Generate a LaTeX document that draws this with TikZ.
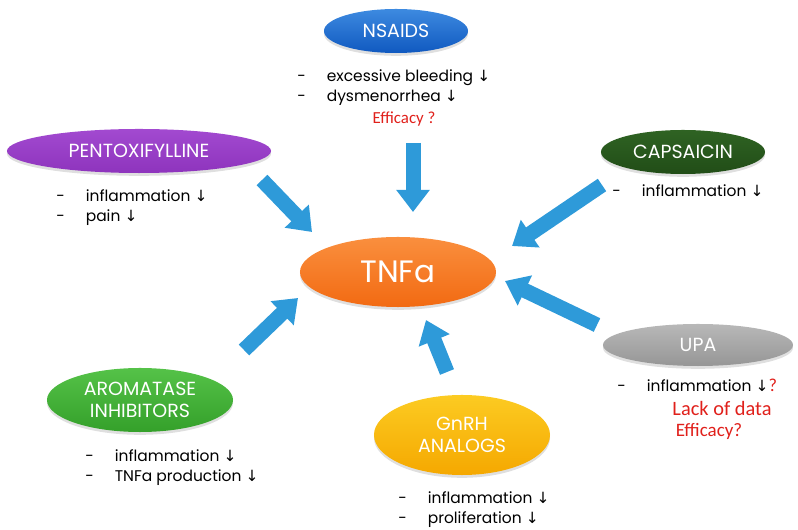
\documentclass[tikz,border=0pt]{standalone}
\usepackage{fontspec}
\setmainfont{Poppins}
\newfontfamily\redfont{Carlito}
\newfontfamily\symfont{DejaVu Sans}
\usetikzlibrary{shapes.geometric,shadows,arrows.meta}
\newcommand\dn{{\symfont\char"2193}}
\newcommand\li[1]{\makebox[21pt][l]{-}#1}
\definecolor{arrowblue}{HTML}{2E9AD9}
\definecolor{txtred}{HTML}{E0201B}
\definecolor{nsaidtop}{HTML}{3D8AE0}\definecolor{nsaidbot}{HTML}{1059C0}
\definecolor{pentotop}{HTML}{A24AD0}\definecolor{pentobot}{HTML}{8E34BD}
\definecolor{capstop}{HTML}{2F6323}\definecolor{capsbot}{HTML}{214D17}
\definecolor{upatop}{HTML}{B8B8B8}\definecolor{upabot}{HTML}{969696}
\definecolor{aromtop}{HTML}{55C248}\definecolor{arombot}{HTML}{34A02A}
\definecolor{gnrhtop}{HTML}{FCCB22}\definecolor{gnrhbot}{HTML}{F5A800}
\definecolor{tnftop}{HTML}{FA8F3E}\definecolor{tnfbot}{HTML}{F26A12}

\begin{document}
\begin{tikzpicture}[x=0.025cm,y=-0.025cm,
  drug/.style={ellipse,inner sep=0pt,font=\fontsize{13.5}{16}\selectfont,text=white,align=center,
    drop shadow={opacity=0.25,shadow xshift=0pt,shadow yshift=-2pt}},
  list/.style={anchor=west,align=left,inner sep=0pt,font=\fontsize{11}{14.2}\selectfont},
  note/.style={inner sep=0pt,text=txtred,font=\redfont\fontsize{12}{14}\selectfont},
  push/.style={line width=0.375cm,draw=arrowblue,-{Triangle[width=0.8cm,length=0.55cm]}}]
\useasboundingbox (0,0) rectangle (798,530);

\node[drug,minimum width=3.6cm,minimum height=1.1cm,top color=nsaidtop,bottom color=nsaidbot] (nsaid) at (396,31) {NSAIDS};
\node[drug,minimum width=6.6cm,minimum height=1.1cm,top color=pentotop,bottom color=pentobot] (pento) at (139,151) {PENTOXIFYLLINE};
\node[drug,minimum width=4.1cm,minimum height=1.1cm,top color=capstop,bottom color=capsbot] (caps) at (683,152) {CAPSAICIN};
\node[drug,minimum width=4.75cm,minimum height=1.05cm,top color=upatop,bottom color=upabot] (upa) at (698,345) {UPA};
\node[drug,minimum width=4.65cm,minimum height=1.6cm,top color=aromtop,bottom color=arombot] (arom) at (140,400) {AROMATASE\\INHIBITORS};
\node[drug,minimum width=4.4cm,minimum height=2cm,top color=gnrhtop,bottom color=gnrhbot] (gnrh) at (462,435) {GnRH\\ANALOGS};
\node[drug,minimum width=4.9cm,minimum height=1.75cm,font=\fontsize{22}{24}\selectfont,top color=tnftop,bottom color=tnfbot] (tnf) at (398,272) {TNFa};

\node[list] (nsaidtxt) at (297,88) {\li{excessive bleeding \dn}\\\li{dysmenorrhea \dn}};
\node[note] (nsaidq) at (404,119) {Efficacy ?};
\node[list] (pentotxt) at (56,208) {\li{inflammation \dn}\\\li{pain \dn}};
\node[list] (capstxt) at (612,191) {\li{inflammation \dn}};
\node[list] (upatxt) at (617,385) {\li{inflammation \dn\textcolor{txtred}{\redfont\fontsize{13}{14}\selectfont ?}}};
\node[note,font=\redfont\fontsize{14.5}{16}\selectfont] (upalack) at (722,408) {Lack of data};
\node[note,font=\redfont\fontsize{13.5}{16}\selectfont] (upaq) at (709,431) {Efficacy?};
\node[list] (aromtxt) at (85,468) {\li{inflammation \dn}\\\li{TNFa production \dn}};
\node[list] (gnrhtxt) at (398,510) {\li{inflammation \dn}\\\li{proliferation \dn}};

\coordinate (nsaid-a) at (413,143); \coordinate (nsaid-b) at (413,212);
\coordinate (pento-a) at (262,180); \coordinate (pento-b) at (312,232);
\coordinate (caps-a) at (602,185);  \coordinate (caps-b) at (512,246);
\coordinate (upa-a) at (597,325);   \coordinate (upa-b) at (505,281);
\coordinate (gnrh-a) at (447,372);  \coordinate (gnrh-b) at (426,320);
\coordinate (arom-a) at (244,350);  \coordinate (arom-b) at (298,298);

\draw[push] (nsaid-a) -- (nsaid-b);
\draw[push] (pento-a) -- (pento-b);
\draw[push] (caps-a) -- (caps-b);
\draw[push] (upa-a) -- (upa-b);
\draw[push] (gnrh-a) -- (gnrh-b);
\draw[push] (arom-a) -- (arom-b);
\end{tikzpicture}
\end{document}
